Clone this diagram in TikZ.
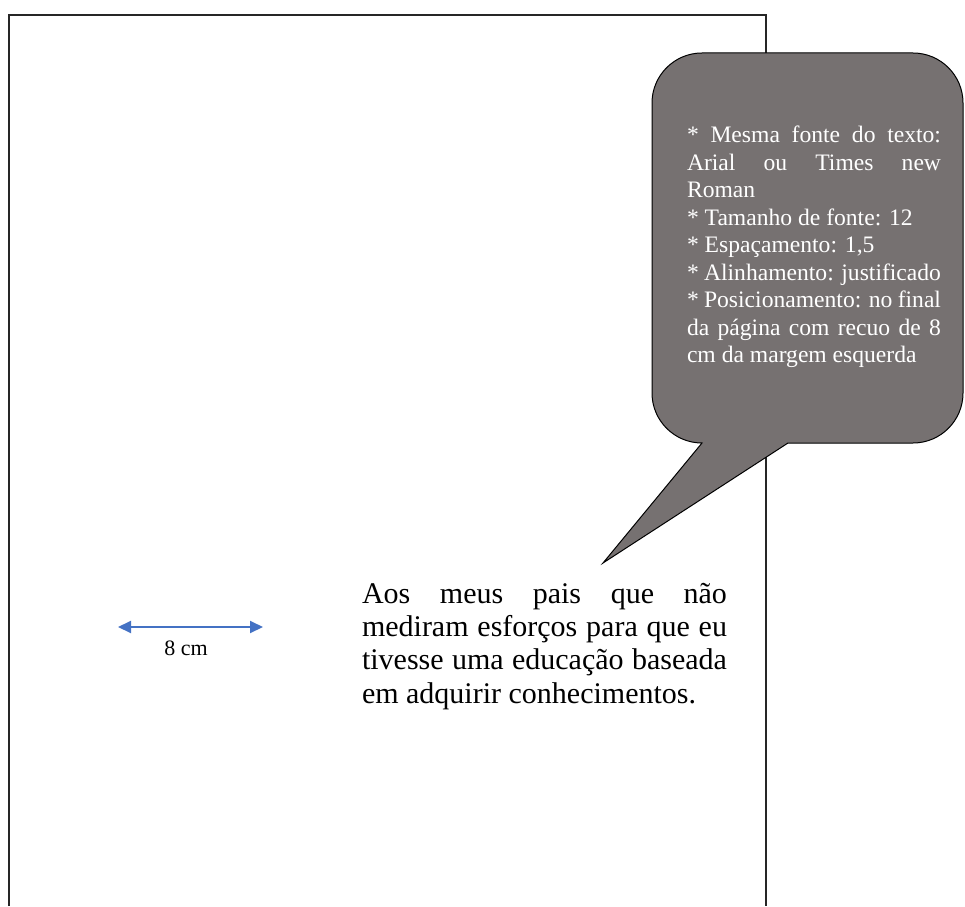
\documentclass[tikz,border=0pt]{standalone}
\usepackage{fontspec}
\setmainfont{Liberation Serif}
\usetikzlibrary{arrows.meta}
\definecolor{calloutgray}{HTML}{767171}
\definecolor{arrowblue}{HTML}{4472C4}
\tikzset{
  pageline/.style={draw=black!85, line width=1.6pt},
  calloutshape/.style={draw=black, line width=1pt, fill=calloutgray},
  plain/.style={inner sep=0pt, outer sep=0pt},
  measure/.style={draw=arrowblue, line width=2pt, {Triangle[length=13pt,width=12pt]}-{Triangle[length=13pt,width=12pt]}}
}
\begin{document}
\begin{tikzpicture}[x=1pt,y=1pt]
\useasboundingbox (0,0) rectangle (965,906);
% page outline (bottom runs off the picture)
\draw[pageline] (9,0) -- (9,891) -- (766,891) -- (766,0);
% callout
\draw[calloutshape] (702,853) -- (913,853) arc[start angle=90,end angle=0,radius=50]
  -- (963,513) arc[start angle=0,end angle=-90,radius=50]
  -- (788,463) -- (603,343) -- (702,463)
  arc[start angle=270,end angle=180,radius=50]
  -- (652,803) arc[start angle=180,end angle=90,radius=50] -- cycle;
\node[plain, anchor=base west, text=white] (note) at (687,763) {%
  \begin{minipage}[t]{254pt}\fontsize{23.6pt}{27.5pt}\selectfont
  \makebox[254pt][s]{{*} Mesma fonte do texto:}\\
  \makebox[254pt][s]{Arial ou Times new}\\
  Roman\\
  {*} Tamanho de fonte: 12\\
  {*} Espaçamento: 1,5\\
  \makebox[254pt][s]{{*} Alinhamento: justificado}\\
  \makebox[254pt][s]{{*} Posicionamento: no final}\\
  \makebox[254pt][s]{da página com recuo de 8}\\
  cm da margem esquerda
  \end{minipage}};
% dedication text
\node[plain, anchor=base west] (dedic) at (362,303) {%
  \begin{minipage}[t]{365pt}\fontsize{30pt}{33.4pt}\selectfont
  \makebox[365pt][s]{Aos meus pais que não}\\
  \makebox[365pt][s]{mediram esforços para que eu}\\
  \makebox[365pt][s]{tivesse uma educação baseada}\\
  em adquirir conhecimentos.
  \end{minipage}};
% 8 cm measure
\coordinate (mL) at (118,279);
\coordinate (mR) at (263,279);
\draw[measure] (mL) -- (mR);
\node[plain, anchor=base] (mlabel) at (186,251) {\fontsize{22pt}{26pt}\selectfont 8 cm};
\end{tikzpicture}
\end{document}
